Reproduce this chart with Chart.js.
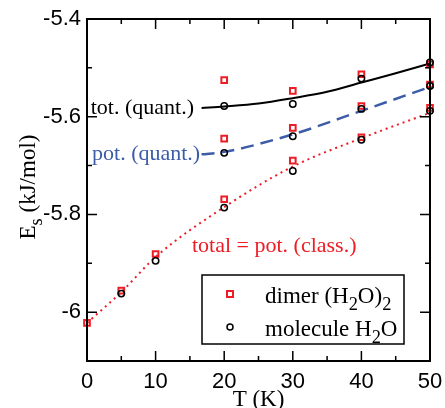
<!DOCTYPE html>
<html>
<head>
<meta charset="utf-8">
<script src="https://cdn.jsdelivr.net/npm/chart.js@4/dist/chart.umd.min.js"></script>
<style>
  body { margin: 0; background: #fff; }
</style>
</head>
<body>
<canvas id="chart" width="445" height="408"></canvas>
<script>
// x ticks (T in K) and y ticks (E_s in kJ/mol)
const tTicks = [0, 10, 20, 30, 40, 50];
const eTicks = [-6, -5.8, -5.6, -5.4];
const eTickLabels = ['-6', '-5.8', '-5.6', '-5.4'];

// dimer (H2O)2 symbols
const dimerT = [0, 5, 10, 20, 20, 20, 30, 30, 30, 40, 40, 40, 50, 50, 50];
const dimerE = [-6.022, -5.956, -5.881, -5.525, -5.645, -5.769, -5.547, -5.623, -5.690, -5.513, -5.578, -5.642, -5.493, -5.534, -5.582];

// molecule H2O symbols
const molT = [5, 10, 20, 20, 20, 30, 30, 30, 40, 40, 40, 50, 50, 50];
const molE = [-5.962, -5.895, -5.578, -5.674, -5.786, -5.574, -5.640, -5.711, -5.522, -5.584, -5.647, -5.489, -5.537, -5.588];

// curves
const totQuantT = [16.7, 20, 25, 30, 35, 40, 45, 50];
const totQuantE = [-5.582, -5.579, -5.573, -5.562, -5.549, -5.530, -5.511, -5.491];
const potQuantT = [16.7, 20, 30, 40, 50];
const potQuantE = [-5.677, -5.672, -5.636, -5.588, -5.539];
const classT = [0, 5, 10, 20, 30, 40, 50];
const classE = [-6.022, -5.959, -5.887, -5.785, -5.702, -5.644, -5.592];

const RED = '#ee1c24';
const BLUE = '#3d5ca8';
const SERIF = '"Liberation Serif", "Times New Roman", serif';

const pts = (xs, ys) => xs.map((x, i) => ({ x: x, y: ys[i] }));

// text next to the curves, anchored in data units
const curveLabels = [
  { text: 'tot. (quant.)', t: 15.6, e: -5.595, align: 'right', color: '#000' },
  { text: 'pot. (quant.)', t: 16.5, e: -5.689, align: 'right', color: BLUE },
  { text: 'total = pot. (class.)', t: 15.3, e: -5.876, align: 'left', color: RED }
];

// draw text with subscripts, parts = [{t, sub}]
function richWidth(ctx, parts, size) {
  let w = 0;
  for (const p of parts) {
    ctx.font = (p.sub ? size * 0.8 : size) + 'px ' + SERIF;
    w += ctx.measureText(p.t).width;
  }
  return w;
}
function drawRich(ctx, parts, x, y, size) {
  let cx = x;
  for (const p of parts) {
    ctx.font = (p.sub ? size * 0.8 : size) + 'px ' + SERIF;
    ctx.fillText(p.t, cx, y + (p.sub ? size * 0.3 : 0));
    cx += ctx.measureText(p.t).width;
  }
}

const decorations = {
  id: 'decorations',
  afterDatasetsDraw(chart) {
    const ctx = chart.ctx;
    const a = chart.chartArea;
    const xs = chart.scales.x, ys = chart.scales.y;
    ctx.save();
    ctx.strokeStyle = '#000';
    ctx.lineWidth = 2;
    ctx.strokeRect(a.left, a.top, a.right - a.left, a.bottom - a.top);

    // inward ticks on all four sides
    ctx.lineWidth = 1.5;
    ctx.beginPath();
    for (let t = 0; t <= 50; t += 5) {
      const len = t % 10 === 0 ? 10 : 5;
      const px = xs.getPixelForValue(t);
      ctx.moveTo(px, a.bottom); ctx.lineTo(px, a.bottom - len);
      ctx.moveTo(px, a.top); ctx.lineTo(px, a.top + len);
    }
    for (let k = 0; k <= 7; k++) {
      const e = -6.1 + k * 0.1;
      const len = k % 2 === 1 ? 10 : 5;
      const py = ys.getPixelForValue(e);
      ctx.moveTo(a.left, py); ctx.lineTo(a.left + len, py);
      ctx.moveTo(a.right, py); ctx.lineTo(a.right - len, py);
    }
    ctx.stroke();

    // curve labels
    ctx.font = '22px ' + SERIF;
    ctx.textBaseline = 'alphabetic';
    for (const l of curveLabels) {
      ctx.fillStyle = l.color;
      ctx.textAlign = l.align;
      ctx.fillText(l.text, xs.getPixelForValue(l.t), ys.getPixelForValue(l.e));
    }

    // legend box
    ctx.textAlign = 'left';
    ctx.lineWidth = 1.5;
    ctx.strokeStyle = '#000';
    ctx.strokeRect(202, 275, 202, 69);
    ctx.strokeStyle = RED;
    ctx.lineWidth = 2;
    ctx.strokeRect(227, 291, 6, 6);
    ctx.strokeStyle = '#000';
    ctx.lineWidth = 1.5;
    ctx.beginPath();
    ctx.arc(230, 327, 3, 0, Math.PI * 2);
    ctx.stroke();
    ctx.fillStyle = '#000';
    drawRich(ctx, [{ t: 'dimer (H' }, { t: '2', sub: true }, { t: 'O)' }, { t: '2', sub: true }], 265, 303, 23);
    drawRich(ctx, [{ t: 'molecule H' }, { t: '2', sub: true }, { t: 'O' }], 265, 336, 23);

    // axis titles
    ctx.font = '23px ' + SERIF;
    ctx.textAlign = 'center';
    ctx.fillText('T (K)', (a.left + a.right) / 2, 406);

    const yTitle = [{ t: 'E' }, { t: 's', sub: true }, { t: ' (kJ/mol)' }];
    ctx.translate(35, (a.top + a.bottom) / 2 - 3);
    ctx.rotate(-Math.PI / 2);
    ctx.textAlign = 'left';
    const w = richWidth(ctx, yTitle, 23);
    drawRich(ctx, yTitle, -w / 2, 0, 23);
    ctx.restore();
  }
};

new Chart(document.getElementById('chart'), {
  type: 'scatter',
  data: {
    datasets: [
      {
        label: 'molecule H2O',
        data: pts(molT, molE),
        showLine: false,
        pointStyle: 'circle',
        pointRadius: 3.2,
        borderColor: '#000',
        backgroundColor: 'rgba(0,0,0,0)',
        borderWidth: 1.5,
        clip: false
      },
      {
        label: 'dimer (H2O)2',
        data: pts(dimerT, dimerE),
        showLine: false,
        pointStyle: 'rect',
        pointRadius: 4,
        borderColor: RED,
        backgroundColor: 'rgba(0,0,0,0)',
        borderWidth: 2,
        clip: false
      },
      {
        label: 'tot. (quant.)',
        data: pts(totQuantT, totQuantE),
        showLine: true,
        pointRadius: 0,
        borderColor: '#000',
        borderWidth: 2,
        cubicInterpolationMode: 'monotone',
        fill: false
      },
      {
        label: 'pot. (quant.)',
        data: pts(potQuantT, potQuantE),
        showLine: true,
        pointRadius: 0,
        borderColor: BLUE,
        borderWidth: 2.5,
        borderDash: [13, 7],
        cubicInterpolationMode: 'monotone',
        fill: false
      },
      {
        label: 'total = pot. (class.)',
        data: pts(classT, classE),
        showLine: true,
        pointRadius: 0,
        borderColor: RED,
        borderWidth: 2,
        borderDash: [2, 4],
        cubicInterpolationMode: 'monotone',
        fill: false
      }
    ]
  },
  options: {
    responsive: false,
    animation: false,
    layout: { padding: { top: 19, right: 15, left: 0, bottom: 0 } },
    plugins: {
      legend: { display: false },
      tooltip: { enabled: false }
    },
    scales: {
      x: {
        type: 'linear',
        min: 0,
        max: 50,
        afterBuildTicks: s => { s.ticks = tTicks.map(v => ({ value: v })); },
        afterFit: s => { s.height = 47; s.paddingLeft = 0; s.paddingRight = 0; },
        grid: { display: false, drawTicks: false },
        border: { display: false },
        ticks: {
          color: '#000',
          padding: 8,
          maxRotation: 0,
          font: { family: '"Liberation Sans", Arial, sans-serif', size: 22 }
        }
      },
      y: {
        type: 'linear',
        min: -6.1,
        max: -5.4,
        afterBuildTicks: s => { s.ticks = eTicks.map(v => ({ value: v })); },
        afterFit: s => { s.width = 87; s.paddingTop = 0; s.paddingBottom = 0; },
        grid: { display: false, drawTicks: false },
        border: { display: false },
        ticks: {
          color: '#000',
          padding: 6,
          font: { family: '"Liberation Sans", Arial, sans-serif', size: 22 },
          callback: v => eTickLabels[eTicks.findIndex(t => Math.abs(t - v) < 1e-6)]
        }
      }
    }
  },
  plugins: [decorations]
});
</script>
</body>
</html>
